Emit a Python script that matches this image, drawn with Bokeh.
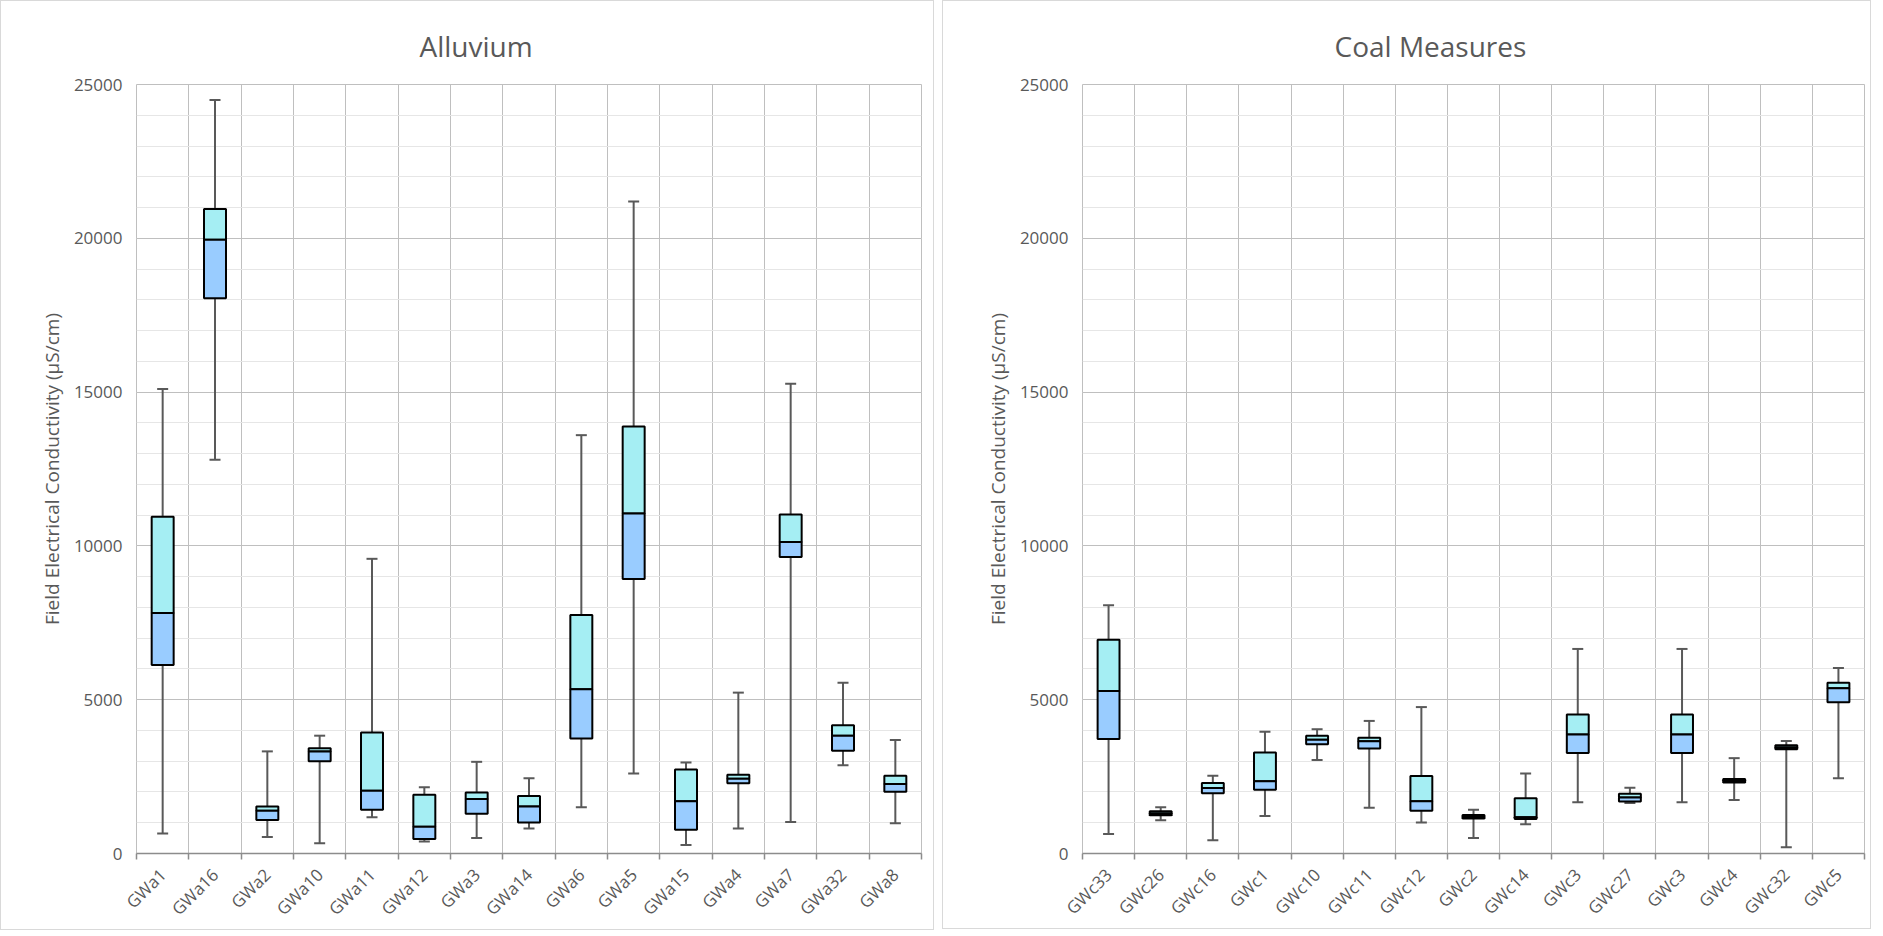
import math
from bokeh.plotting import figure
from bokeh.layouts import row
from bokeh.models import FixedTicker, SingleIntervalTicker
from bokeh.embed import file_html
from bokeh.resources import INLINE

# ---------------- data ----------------
alluvium_wells = ["GWa1", "GWa16", "GWa2", "GWa10", "GWa11", "GWa12", "GWa3", "GWa14",
                  "GWa6", "GWa5", "GWa15", "GWa4", "GWa7", "GWa32", "GWa8"]
alluvium_min = [650, 12800, 540, 330, 1180, 390, 500, 810, 1500, 2600, 280, 810, 1020, 2870, 980]
alluvium_q1 = [6130, 18050, 1090, 3000, 1420, 470, 1290, 1010, 3740, 8920, 770, 2280, 9640, 3340, 2010]
alluvium_median = [7820, 19950, 1390, 3320, 2040, 870, 1770, 1530, 5340, 11050, 1700, 2430, 10130, 3830, 2260]
alluvium_q3 = [10950, 20950, 1530, 3420, 3930, 1910, 1980, 1870, 7750, 13880, 2730, 2560, 11020, 4170, 2530]
alluvium_max = [15100, 24500, 3320, 3830, 9580, 2150, 2980, 2450, 13600, 21200, 2960, 5230, 15270, 5550, 3690]

coal_wells = ["GWc33", "GWc26", "GWc16", "GWc1", "GWc10", "GWc11", "GWc12", "GWc2",
              "GWc14", "GWc3", "GWc27", "GWc3", "GWc4", "GWc32", "GWc5"]
coal_min = [630, 1080, 430, 1220, 3040, 1490, 1010, 500, 950, 1670, 1640, 1670, 1740, 200, 2450]
coal_q1 = [3720, 1240, 1960, 2070, 3550, 3410, 1390, 1140, 1120, 3270, 1690, 3270, 2310, 3390, 4920]
coal_median = [5280, 1300, 2130, 2350, 3700, 3650, 1700, 1190, 1180, 3870, 1820, 3870, 2370, 3450, 5370]
coal_q3 = [6950, 1370, 2290, 3280, 3830, 3760, 2520, 1250, 1800, 4520, 1940, 4520, 2420, 3520, 5550]
coal_max = [8070, 1500, 2530, 3960, 4040, 4310, 4760, 1420, 2600, 6650, 2140, 6650, 3100, 3660, 6030]

y_label = "Field Electrical Conductivity (µS/cm)"

FONT = "Open Sans"
TEXT = "#595959"
UPPER = "#A5EEF3"
LOWER = "#99CCFF"
WHISK = "#595959"
MAJOR_GRID = "#BFBFBF"
MINOR_GRID = "#E6E6E6"


def panel(title, wells, mins, q1, med, q3, maxs, frame_w, bl, br, title_offset):
    n = len(wells)
    centers = list(range(n))
    bounds = [i - 0.5 for i in range(n + 1)]
    p = figure(frame_width=frame_w, frame_height=767, x_range=(-0.5, n - 0.5), y_range=(0, 25000),
               output_backend="svg", toolbar_location=None,
               min_border_left=bl, min_border_right=br, min_border_top=83, min_border_bottom=68,
               title=title,
               styles={"border": "1px solid #D9D9D9"})
    p.title.align = "left"
    p.title.offset = title_offset
    p.title.standoff = 40
    p.title.text_font = FONT
    p.title.text_font_size = "28px"
    p.title.text_font_style = "normal"
    p.title.text_color = TEXT

    p.outline_line_color = MAJOR_GRID
    p.outline_line_width = 1

    # y axis
    p.yaxis.ticker = SingleIntervalTicker(interval=5000, num_minor_ticks=5)
    p.yaxis.axis_line_color = None
    p.yaxis.major_tick_line_color = None
    p.yaxis.minor_tick_line_color = None
    p.yaxis.major_tick_out = 0
    p.yaxis.minor_tick_out = 0
    p.yaxis.major_label_standoff = 14
    p.yaxis.major_label_text_font = FONT
    p.yaxis.major_label_text_font_size = "17px"
    p.yaxis.major_label_text_color = TEXT
    p.yaxis.axis_label = y_label
    p.yaxis.axis_label_text_font = FONT
    p.yaxis.axis_label_text_font_size = "19px"
    p.yaxis.axis_label_text_font_style = "normal"
    p.yaxis.axis_label_text_color = TEXT
    p.yaxis.axis_label_standoff = 6
    p.ygrid.grid_line_color = MAJOR_GRID
    p.ygrid.minor_grid_line_color = MINOR_GRID

    # x axis
    p.xaxis.ticker = FixedTicker(ticks=centers, minor_ticks=bounds)
    p.xaxis.major_label_overrides = {i: wells[i] for i in centers}
    p.xaxis.major_label_orientation = math.pi / 4
    p.xaxis.major_label_text_font = FONT
    p.xaxis.major_label_text_font_size = "17px"
    p.xaxis.major_label_text_color = TEXT
    p.xaxis.major_label_standoff = 12
    p.xaxis.major_tick_in = 0
    p.xaxis.major_tick_out = 0
    p.xaxis.minor_tick_in = 0
    p.xaxis.minor_tick_out = 6
    p.xaxis.axis_line_color = "#8C8C8C"
    p.xaxis.axis_line_width = 1.5
    p.xaxis.minor_tick_line_color = "#8C8C8C"
    p.xaxis.minor_tick_line_width = 1.5
    p.xgrid.ticker = FixedTicker(ticks=bounds)
    p.xgrid.grid_line_color = MAJOR_GRID

    # whiskers
    p.segment(x0=centers, y0=mins, x1=centers, y1=maxs, line_color=WHISK, line_width=2)
    p.scatter(x=centers, y=maxs, marker="dash", size=11, line_color=WHISK, line_width=2)
    p.scatter(x=centers, y=mins, marker="dash", size=11, line_color=WHISK, line_width=2)
    # boxes
    p.vbar(x=centers, width=0.42, top=q3, bottom=med, fill_color=UPPER,
           line_color="black", line_width=2)
    p.vbar(x=centers, width=0.42, top=med, bottom=q1, fill_color=LOWER,
           line_color="black", line_width=2)
    return p


p1 = panel("Alluvium", alluvium_wells, alluvium_min, alluvium_q1, alluvium_median,
           alluvium_q3, alluvium_max, 783, 135, 14, 283)
p2 = panel("Coal Measures", coal_wells, coal_min, coal_q1, coal_median,
           coal_q3, coal_max, 780, 139, 8, 252)

layout = row(p1, p2, spacing=8)
open("out.html", "w").write(file_html(layout, INLINE))
